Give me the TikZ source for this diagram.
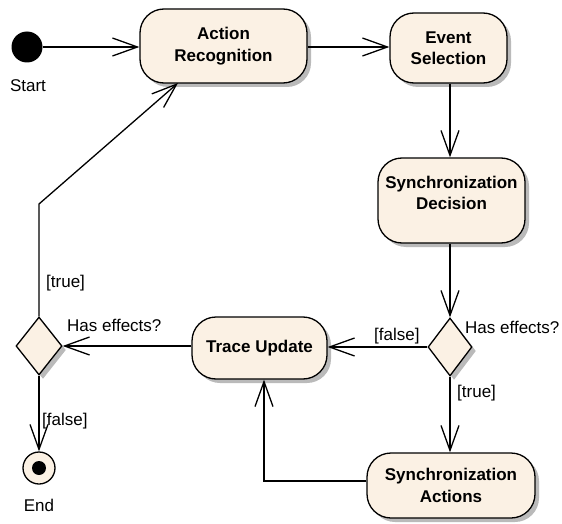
\documentclass[tikz,border=0pt]{standalone}
\usepackage{fontspec}
\setmainfont{Liberation Sans}
\usetikzlibrary{arrows.meta,shapes.geometric,shadows}
\definecolor{boxfill}{RGB}{251,241,228}
\begin{document}
\begin{tikzpicture}[x=1pt,y=-1pt,
  every node/.style={font=\fontsize{17}{21.5}\selectfont},
  act/.style={draw=black,line width=1.3pt,fill=boxfill,rounded corners=24pt,
    align=center,inner sep=0pt,font=\fontsize{17}{21.5}\selectfont\bfseries,
    drop shadow={shadow xshift=4pt,shadow yshift=-4pt,fill=black!45,opacity=0.6}},
  dec/.style={draw=black,line width=1.3pt,fill=boxfill,diamond,inner sep=0pt,
    drop shadow={shadow xshift=4pt,shadow yshift=-4pt,fill=black!45,opacity=0.6}},
  lbl/.style={inner sep=0pt,anchor=west},
  flow/.style={draw=black,line width=1.3pt,-{Straight Barb[length=25pt,width=18pt,line width=1.3pt]}}
]
\useasboundingbox (0,0) rectangle (562,524);
% nodes
\node[circle,fill=black,minimum size=31pt,inner sep=0pt] (start) at (27,47) {};
\node[inner sep=0pt] (startl) at (28,86) {Start};
\node[act,minimum width=167pt,minimum height=74pt] (actrec) at (223.5,46) {Action\\Recognition};
\node[act,minimum width=117pt,minimum height=70pt] (evsel) at (448.5,48) {Event\\Selection};
\node[act,minimum width=147pt,minimum height=85pt] (sdec) at (451.5,200.5) {};
\node[inner sep=0pt,align=center,font=\fontsize{17}{21.5}\selectfont\bfseries] (sdect) at (451.5,193) {Synchronization\\Decision};
\node[dec,minimum width=44pt,minimum height=58pt] (dright) at (450,347) {};
\node[act,minimum width=135pt,minimum height=62pt] (trace) at (259.5,348) {Trace Update};
\node[act,minimum width=168pt,minimum height=65pt] (sact) at (451,485.5) {Synchronization\\Actions};
\node[dec,minimum width=46pt,minimum height=58pt] (dleft) at (39,346) {};
\node[circle,draw=black,line width=1.3pt,fill=boxfill,minimum size=32pt,inner sep=0pt] (endn) at (39,468) {};
\node[circle,fill=black,minimum size=14pt,inner sep=0pt] (enddot) at (endn.center) {};
\node[inner sep=0pt] (endl) at (39,505) {End};
% labels
\node[lbl] (ltrue) at (46,283) {[true]};
\node[lbl] (lhas) at (67,325) {Has effects?};
\node[lbl] (lfalse) at (42,421) {[false]};
\node[lbl] (rfalse) at (374,336) {[false]};
\node[lbl] (rhas) at (465,327) {Has effects?};
\node[lbl] (rtrue) at (457,393) {[true]};
% connectors
\coordinate (bend) at (39,204);
\coordinate (acttgt) at (178,83);
\coordinate (sactturn) at (264,481);
\draw[flow] (start.east) -- (start.east -| actrec.west);
\draw[flow] (actrec.east |- 0,47) -- (evsel.west |- 0,47);
\draw[flow] (evsel.south -| 450,0) -- (sdec.north -| 450,0);
\draw[flow] (sdec.south -| 450,0) -- (dright.north);
\draw[flow] (dright.west) -- (dright.west -| trace.east);
\draw[flow] (dright.south) -- (dright.south |- sact.north);
\draw[flow] (sact.west |- sactturn) -- (sactturn) -- (sactturn |- trace.south);
\draw[flow] (trace.west |- dleft.east) -- (dleft.east);
\draw[flow] (dleft.south) -- (endn.north);
\draw[flow] (dleft.north) -- (bend) -- (acttgt);
\end{tikzpicture}
\end{document}
